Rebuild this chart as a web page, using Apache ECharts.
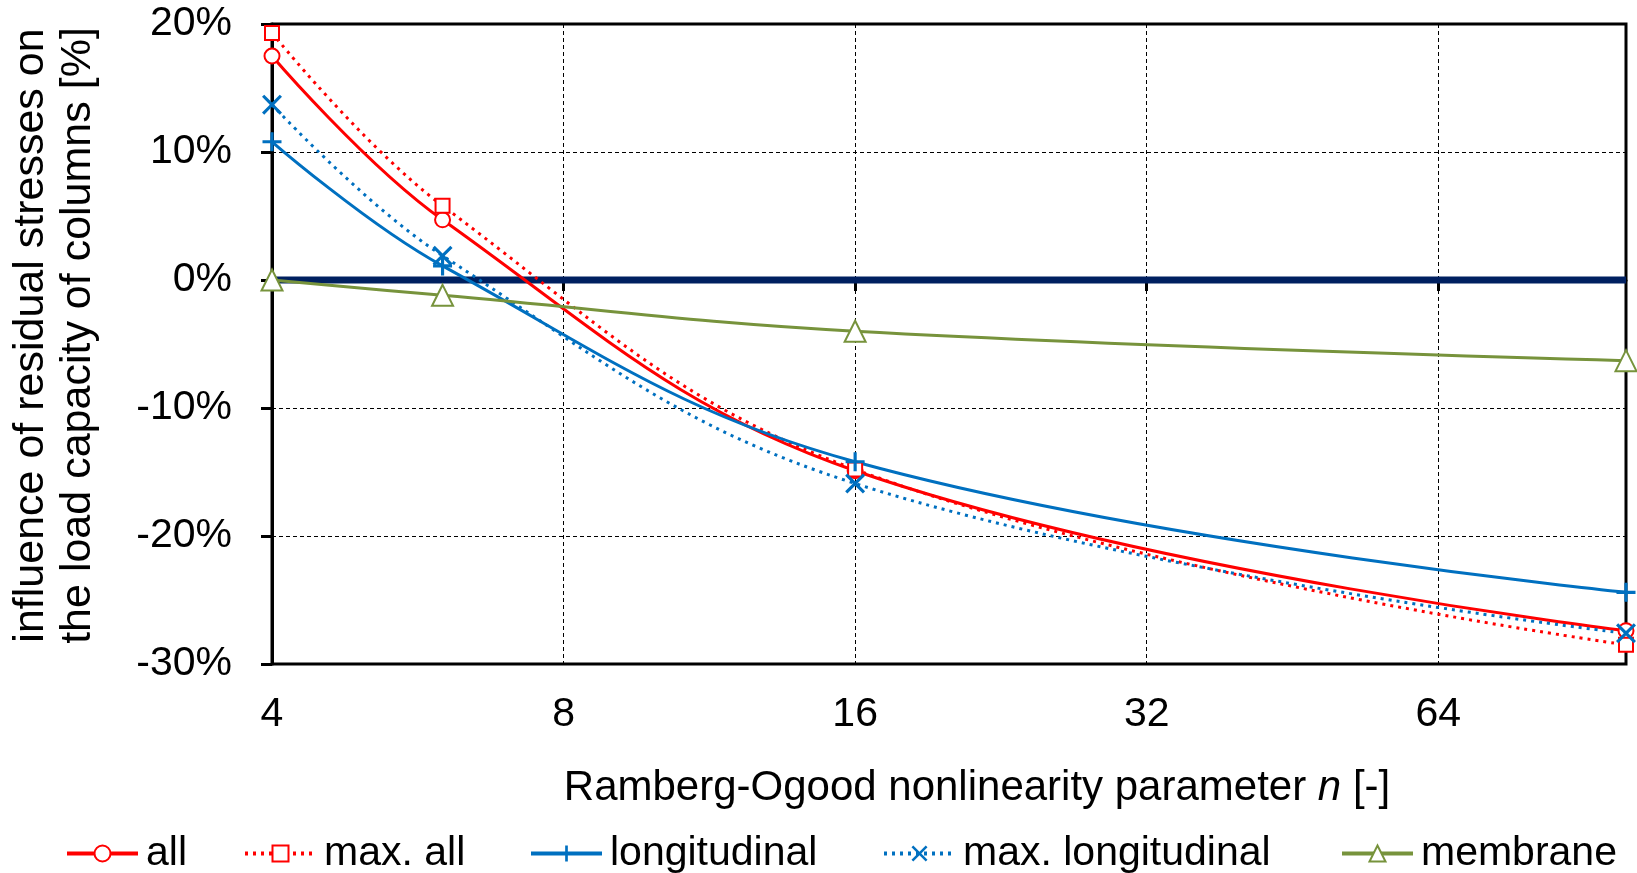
<!DOCTYPE html>
<html>
<head>
<meta charset="utf-8">
<script src="https://cdn.jsdelivr.net/npm/echarts@6/dist/echarts.min.js"></script>
<style>
html,body{margin:0;padding:0;background:#fff;}
#chart{width:1637px;height:873px;}
</style>
</head>
<body>
<div id="chart"></div>
<script>
// Ramberg-Osgood parameter n (x values)
const nValues = [4, 6, 16, 100];
const xTickValues = [4, 8, 16, 32, 64];
const yTickValues = [-30, -20, -10, 0, 10, 20];
// influence in %
const seriesNames = ['all', 'max. all', 'longitudinal', 'max. longitudinal', 'membrane'];
const allVals = [17.5, 4.7, -14.9, -27.4];
const maxAllVals = [19.3, 5.8, -14.8, -28.5];
const longVals = [10.8, 1.1, -14.2, -24.4];
const maxLongVals = [13.7, 1.9, -15.9, -27.6];
const membraneVals = [0, -1.2, -4.0, -6.3];
const zeroLine = [0, 0];

const FONT = 'Liberation Sans, Arial, sans-serif';
const RED = '#FF0000', BLUE = '#0070C0', GREEN = '#77933C', NAVY = '#002060';
const PLUS = 'path://M7.5,0H10.5V7.5H18V10.5H10.5V18H7.5V10.5H0V7.5H7.5Z';
const CROSS = 'path://M0,2L2,0L9,7L16,0L18,2L11,9L18,16L16,18L9,11L2,18L0,16L7,9Z';
const legendLefts = [65, 243, 529, 882, 1340];

function pairs(vals){ return nValues.map((n,i)=>[n, vals[i]]); }

const legends = seriesNames.map((nm, i) => ({
  data: [nm], left: legendLefts[i], top: 833, padding: 0,
  itemWidth: 71, itemHeight: 20, itemGap: 0,
  lineStyle: {width: 4},
  textStyle: {fontSize: 41, color: '#000', fontFamily: FONT, padding: [0, 0, 0, 3]}
}));

const chart = echarts.init(document.getElementById('chart'), null, {renderer:'canvas'});
chart.setOption({
  animation: false,
  textStyle: {fontFamily: FONT},
  grid: {left: 272, right: 11, top: 24, bottom: 209, show: true, borderColor: '#000', borderWidth: 3, backgroundColor: 'transparent'},
  legend: legends,
  xAxis: {
    type: 'log', logBase: 2, min: 4, max: 100,
    name: 'Ramberg-Ogood nonlinearity parameter {i|n} [-]',
    nameLocation: 'middle', nameGap: 103,
    nameTextStyle: {fontSize: 42, color: '#000', fontFamily: FONT, padding: [0, 0, 0, 56],
      rich: {i: {fontSize: 42, fontStyle: 'italic', color: '#000', fontFamily: FONT}}},
    axisLine: {show: true, lineStyle: {color: '#000', width: 3}},
    axisTick: {show: true, length: 11, lineStyle: {color: '#000', width: 3}, customValues: xTickValues},
    axisLabel: {fontSize: 41, color: '#000', margin: 30, customValues: xTickValues, formatter: v => String(Math.round(v))},
    splitLine: {show: true, lineStyle: {color: '#000', width: 1, type: [4, 3]}},
    minorTick: {show: false}
  },
  yAxis: {
    type: 'value', min: -30, max: 20, interval: 10,
    name: 'influence of residual stresses on\nthe load capacity of columns [%]',
    nameLocation: 'middle', nameGap: 170,
    nameTextStyle: {fontSize: 43, lineHeight: 47, color: '#000', fontFamily: FONT, padding: [0, 0, 0, 17]},
    axisLine: {show: true, lineStyle: {color: '#000', width: 3}},
    axisTick: {show: true, length: 11, lineStyle: {color: '#000', width: 3}},
    axisLabel: {fontSize: 41, color: '#000', margin: 40, formatter: v => v + '%'},
    splitLine: {show: true, lineStyle: {color: '#000', width: 1, type: [4, 3]}}
  },
  series: [
    {name: 'zero', type: 'line', data: [[4, zeroLine[0]], [100, zeroLine[1]]], symbol: 'none', silent: true,
      lineStyle: {color: NAVY, width: 7}, itemStyle: {color: NAVY}, z: 2},
    {name: 'all', type: 'line', data: pairs(allVals), smooth: 0.4, symbol: 'emptyCircle', symbolSize: 15,
      lineStyle: {color: RED, width: 3}, itemStyle: {color: RED, borderWidth: 3}, z: 3},
    {name: 'max. all', type: 'line', data: pairs(maxAllVals), smooth: 0.4, symbol: 'emptyRect', symbolSize: 14,
      lineStyle: {color: RED, width: 3, type: [3, 5]}, itemStyle: {color: RED, borderWidth: 3}, z: 3},
    {name: 'longitudinal', type: 'line', data: pairs(longVals), smooth: 0.4, symbol: PLUS, symbolSize: 19,
      lineStyle: {color: BLUE, width: 3}, itemStyle: {color: BLUE, borderWidth: 0}, z: 3},
    {name: 'max. longitudinal', type: 'line', data: pairs(maxLongVals), smooth: 0.4, symbol: CROSS, symbolSize: 20,
      lineStyle: {color: BLUE, width: 3, type: [3, 5]}, itemStyle: {color: BLUE, borderWidth: 0}, z: 3},
    {name: 'membrane', type: 'line', data: pairs(membraneVals), smooth: 0.4, symbol: 'emptyTriangle', symbolSize: 21,
      lineStyle: {color: GREEN, width: 3}, itemStyle: {color: GREEN, borderWidth: 3}, z: 3}
  ]
});
</script>
</body>
</html>
